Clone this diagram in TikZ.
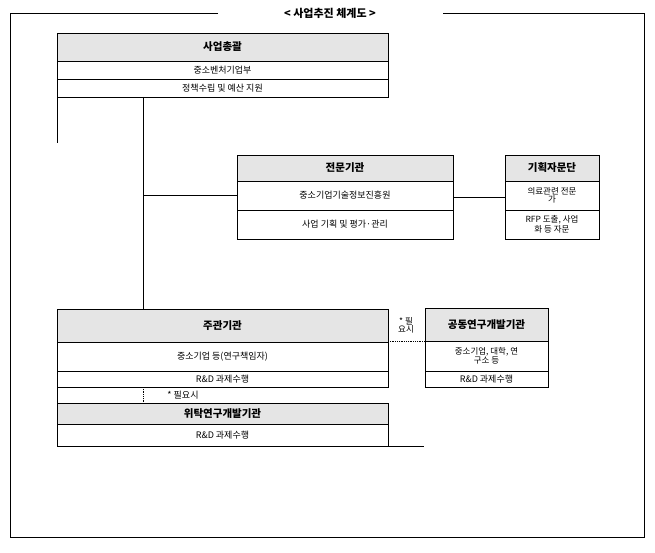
\documentclass[tikz,border=0pt]{standalone}
\usepackage{fontspec}
\setmainfont{Noto Sans CJK KR}
\begin{document}
\begin{tikzpicture}[x=1pt,y=-1pt,
  hdr/.style={draw,fill=gray!20,line width=0.8pt},
  cell/.style={draw,line width=0.8pt},
  ln/.style={line width=0.8pt},
  ht/.style={font=\fontsize{10.5}{11}\selectfont\bfseries},
  bt/.style={font=\fontsize{9}{9.5}\selectfont,align=center}]
\useasboundingbox (0,0) rectangle (655,553);
% frame
\draw[ln] (218,13) -- (10,13) -- (10,537) -- (644,537) -- (644,13) -- (443,13);
\node[font=\fontsize{11}{12}\selectfont\bfseries] (title) at (330,13) {< 사업추진 체계도 >};
% box 1
\draw[hdr] (57,33) rectangle (388,61);
\node[ht] (b1h) at (222.5,47) {사업총괄};
\draw[cell] (57,61) rectangle (388,79);
\node[bt] (b1a) at (222.5,70) {중소벤처기업부};
\draw[cell] (57,79) rectangle (388,97);
\node[bt] (b1b) at (222.5,88) {정책수립 및 예산 지원};
\draw[ln] (57,97) -- (57,143);
\draw[ln] (143,97) -- (143,309);
% box 2
\draw[hdr] (237,155) rectangle (453,181);
\node[ht] (b2h) at (345,168) {전문기관};
\draw[cell] (237,181) rectangle (453,210);
\node[bt] (b2a) at (345,195.5) {중소기업기술정보진흥원};
\draw[cell] (237,210) rectangle (453,239);
\node[bt] (b2b) at (345,224.5) {사업 기획 및 평가·관리};
\draw[ln] (143,195) -- (237,195);
\draw[ln] (453,197) -- (505,197);
% box 3
\draw[hdr] (505,155) rectangle (599,181);
\node[ht] (b3h) at (552,168) {기획자문단};
\draw[cell] (505,181) rectangle (599,210);
\node[bt,font=\fontsize{8.5}{8}\selectfont] (b3a) at (552,195.5) {의료관련 전문\\가};
\draw[cell] (505,210) rectangle (599,239);
\node[bt,font=\fontsize{8.5}{8}\selectfont] (b3b) at (552,224.5) {RFP 도출, 사업\\화 등 자문};
% box 4
\draw[hdr] (57,309) rectangle (388,342);
\node[ht] (b4h) at (222.5,325.5) {주관기관};
\draw[cell] (57,342) rectangle (388,371);
\node[bt] (b4a) at (222.5,356.5) {중소기업 등(연구책임자)};
\draw[cell] (57,371) rectangle (388,387);
\node[bt] (b4b) at (222.5,379) {R\&D 과제수행};
\draw[ln] (57,387) -- (57,403);
\draw[ln,densely dotted] (143,387) -- (143,403);
\node[bt] (n1) at (183,395) {* 필요시};
% box 5
\draw[hdr] (57,403) rectangle (388,424);
\node[ht] (b5h) at (222.5,413.5) {위탁연구개발기관};
\draw[cell] (57,424) rectangle (388,446);
\node[bt] (b5a) at (222.5,435) {R\&D 과제수행};
\draw[ln] (388,446) -- (424,446);
% box 6
\draw[ln,densely dotted] (388,341) -- (425,341);
\node[bt,font=\fontsize{8.5}{8}\selectfont] (n2) at (406,325) {* 필\\요시};
\draw[hdr] (425,308) rectangle (548,341);
\node[ht] (b6h) at (486.5,324.5) {공동연구개발기관};
\draw[cell] (425,341) rectangle (548,371);
\node[bt,font=\fontsize{8.5}{8}\selectfont] (b6a) at (486.5,356) {중소기업, 대학, 연\\구소 등};
\draw[cell] (425,371) rectangle (548,387);
\node[bt] (b6b) at (486.5,379) {R\&D 과제수행};
\end{tikzpicture}
\end{document}
